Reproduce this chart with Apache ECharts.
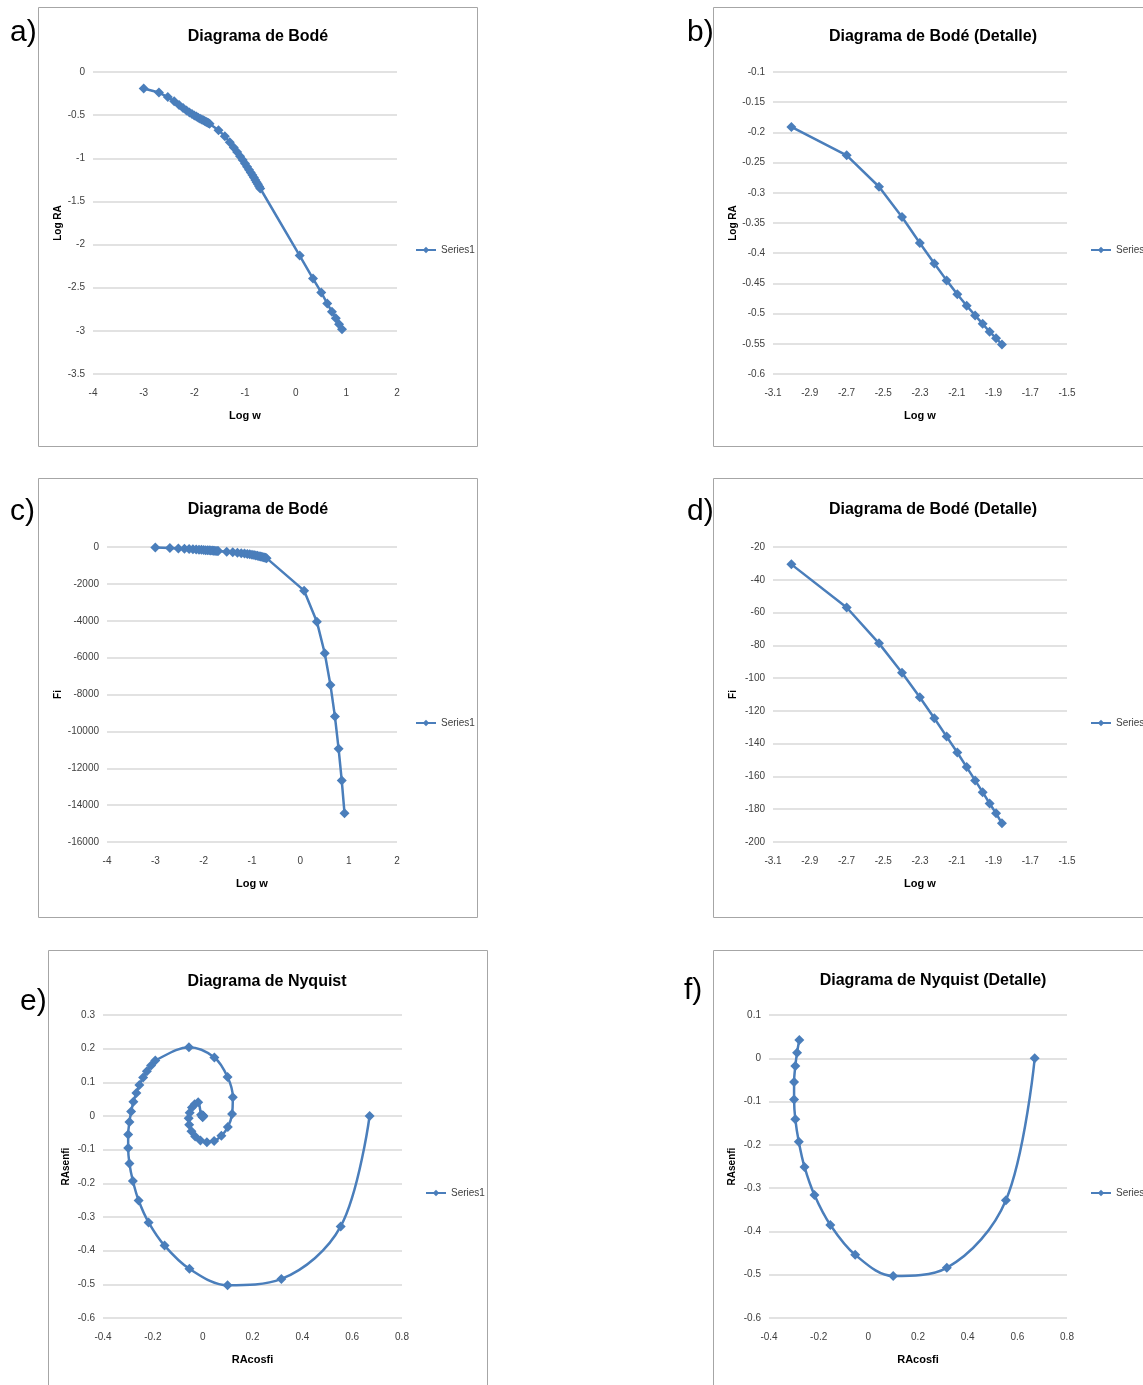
<!DOCTYPE html>
<html>
<head>
<meta charset="utf-8">
<script src="https://cdn.jsdelivr.net/npm/echarts@6/dist/echarts.min.js"></script>
<style>
html, body { margin: 0; padding: 0; background: #fff; }
#main { width: 1143px; height: 1385px; }
</style>
</head>
<body>
<div id="main"></div>
<script>
// log10 of w : 0.001..0.020, 0.03..0.20, 1.2..8.2
var logW = [-3.000, -2.699, -2.523, -2.398, -2.301, -2.222, -2.155, -2.097, -2.046, -2.000,
    -1.959, -1.921, -1.886, -1.854, -1.824, -1.796, -1.770, -1.745, -1.721, -1.699,
    -1.523, -1.398, -1.301, -1.222, -1.155, -1.097, -1.046, -1.000, -0.959, -0.921,
    -0.886, -0.854, -0.824, -0.796, -0.770, -0.745, -0.721, -0.699,
    0.079, 0.342, 0.505, 0.623, 0.716, 0.792, 0.857, 0.914];
var logRA = [-0.191, -0.238, -0.290, -0.340, -0.383, -0.417, -0.445, -0.468, -0.487, -0.503,
    -0.517, -0.530, -0.541, -0.551, -0.560, -0.569, -0.577, -0.585, -0.592, -0.600,
    -0.675, -0.744, -0.814, -0.875, -0.928, -0.976, -1.020, -1.060, -1.097, -1.132,
    -1.165, -1.195, -1.224, -1.251, -1.277, -1.302, -1.327, -1.349,
    -2.128, -2.394, -2.555, -2.683, -2.778, -2.855, -2.922, -2.980];
var fi = [-30.6, -56.9, -78.8, -96.7, -111.7, -124.5, -135.7, -145.4, -154.3, -162.4,
    -169.6, -176.5, -182.5, -188.6, -194.4, -200.0, -205.4, -210.7, -215.9, -221.0,
    -255, -285, -311, -335, -357, -378, -398, -418, -437.5, -457,
    -476, -495, -514, -532.5, -551, -569.5, -588, -606,
    -2369, -4049, -5761, -7480, -9198, -10948, -12667, -14434];
// Nyquist (first point is w = 0)
var raCos = [0.670, 0.554, 0.316, 0.100, -0.053, -0.153, -0.217, -0.257, -0.280, -0.294,
    -0.299, -0.299, -0.294, -0.287, -0.278, -0.266, -0.254, -0.239, -0.224, -0.207, -0.190,
    -0.055, 0.047, 0.100, 0.121, 0.118, 0.101, 0.075, 0.046, 0.017, -0.009,
    -0.030, -0.045, -0.054, -0.056, -0.052, -0.043, -0.032, -0.018,
    -0.0065, 0.0001, 0.0028, 0.0004, -0.0016, -0.0012, 0.0005, 0.0009];
var raSen = [0.000, -0.328, -0.484, -0.503, -0.454, -0.385, -0.316, -0.251, -0.193, -0.141,
    -0.095, -0.055, -0.018, 0.013, 0.042, 0.068, 0.092, 0.114, 0.133, 0.150, 0.165,
    0.204, 0.174, 0.116, 0.056, 0.006, -0.033, -0.059, -0.074, -0.078, -0.073,
    -0.061, -0.045, -0.026, -0.007, 0.010, 0.025, 0.035, 0.041,
    0.0036, -0.0040, 0.0000, 0.0020, 0.0005, -0.0007, -0.0011, -0.0006];
var nDetail = 14; // w = 0.001 .. 0.014 in the detail charts

function pairs(xs, ys) {
    return xs.map(function (x, i) { return [x, ys[i]]; });
}

var FONT = "'Liberation Sans', Arial, sans-serif";
var BLUE = '#4a7ebb';

var panels = [
    {title: 'Diagrama de Bodé', tx: 258, ty: 29, grid: [93, 72, 304, 302],
     x: [-4, 2, 1], y: [-3.5, 0, 0.5], xName: 'Log w', yName: 'Log RA', yGap: 30,
     data: pairs(logW, logRA), smooth: false, leg: [415, 245]},
    {title: 'Diagrama de Bodé (Detalle)', tx: 933, ty: 29, grid: [773, 72, 294, 302],
     x: [-3.1, -1.5, 0.2], y: [-0.6, -0.1, 0.05], xName: 'Log w', yName: 'Log RA', yGap: 33,
     data: pairs(logW.slice(0, nDetail), logRA.slice(0, nDetail)), smooth: false, leg: [1090, 245]},
    {title: 'Diagrama de Bodé', tx: 258, ty: 502, grid: [107, 547, 290, 295],
     x: [-4, 2, 1], y: [-16000, 0, 2000], xName: 'Log w', yName: 'Fi', yGap: 44,
     data: pairs(logW, fi), smooth: false, leg: [415, 718]},
    {title: 'Diagrama de Bodé (Detalle)', tx: 933, ty: 502, grid: [773, 547, 294, 295],
     x: [-3.1, -1.5, 0.2], y: [-200, -20, 20], xName: 'Log w', yName: 'Fi', yGap: 35,
     data: pairs(logW.slice(0, nDetail), fi.slice(0, nDetail)), smooth: false, leg: [1090, 718]},
    {title: 'Diagrama de Nyquist', tx: 267, ty: 974, grid: [103, 1015, 299, 303],
     x: [-0.4, 0.8, 0.2], y: [-0.6, 0.3, 0.1], xName: 'RAcosfi', yName: 'RAsenfi', yGap: 32,
     data: pairs(raCos, raSen), smooth: 0.35, leg: [425, 1188]},
    {title: 'Diagrama de Nyquist (Detalle)', tx: 933, ty: 973, grid: [769, 1015, 298, 303],
     x: [-0.4, 0.8, 0.2], y: [-0.6, 0.1, 0.1], xName: 'RAcosfi', yName: 'RAsenfi', yGap: 32,
     data: pairs(raCos.slice(0, nDetail + 1), raSen.slice(0, nDetail + 1)), smooth: 0.35, leg: [1090, 1188]}
];

var frames = [[38, 7, 439, 439], [713, 7, 440, 439], [38, 478, 439, 439],
    [713, 478, 440, 439], [48, 950, 439, 440], [713, 950, 440, 440]];
var letters = [['a)', 10, 18], ['b)', 687, 18], ['c)', 10, 497], ['d)', 687, 497],
    ['e)', 20, 987], ['f)', 684, 976]];

var chartDom = document.getElementById('main');
var myChart = echarts.init(chartDom);

var option = {
    backgroundColor: '#ffffff',
    animation: false,
    textStyle: {fontFamily: FONT},
    title: [],
    legend: [],
    grid: [],
    xAxis: [],
    yAxis: [],
    series: [],
    graphic: []
};

frames.forEach(function (f) {
    option.graphic.push({
        type: 'rect', silent: true, z: -1,
        shape: {x: f[0] + 0.5, y: f[1] + 0.5, width: f[2], height: f[3]},
        style: {fill: 'none', stroke: '#a6a6a6', lineWidth: 1}
    });
});
letters.forEach(function (l) {
    option.graphic.push({
        type: 'text', left: l[1], top: l[2],
        style: {text: l[0], fontSize: 30, fontFamily: FONT, fill: '#000'}
    });
});

panels.forEach(function (p, i) {
    option.title.push({
        text: p.title, left: p.tx, top: p.ty, textAlign: 'center', padding: 0,
        textStyle: {fontFamily: FONT, fontSize: 16, fontWeight: 'bold', color: '#000'}
    });
    option.legend.push({
        data: ['Series1'], left: p.leg[0], top: p.leg[1], padding: 0,
        itemWidth: 20, itemHeight: 8, itemGap: 4,
        textStyle: {fontFamily: FONT, fontSize: 10, color: '#404040'}
    });
    option.grid.push({left: p.grid[0], top: p.grid[1], width: p.grid[2], height: p.grid[3]});
    option.xAxis.push({
        type: 'value', gridIndex: i, min: p.x[0], max: p.x[1], interval: p.x[2],
        name: p.xName, nameLocation: 'middle', nameGap: 36,
        nameTextStyle: {fontFamily: FONT, fontSize: 11, fontWeight: 'bold', color: '#000'},
        axisLine: {show: false}, axisTick: {show: false}, splitLine: {show: false},
        axisLabel: {fontFamily: FONT, fontSize: 10, color: '#404040', margin: 14}
    });
    option.yAxis.push({
        type: 'value', gridIndex: i, min: p.y[0], max: p.y[1], interval: p.y[2],
        name: p.yName, nameLocation: 'middle', nameGap: p.yGap, nameRotate: 90,
        nameTextStyle: {fontFamily: FONT, fontSize: 10, fontWeight: 'bold', color: '#000'},
        axisLine: {show: false}, axisTick: {show: false},
        splitLine: {lineStyle: {color: '#d9d9d9', width: 1.5}},
        axisLabel: {fontFamily: FONT, fontSize: 10, color: '#404040', margin: 8,
            formatter: function (v) { return String(+v.toFixed(4)); }}
    });
    option.series.push({
        name: 'Series1', type: 'line', xAxisIndex: i, yAxisIndex: i,
        data: p.data, smooth: p.smooth,
        symbol: 'diamond', symbolSize: 10, showAllSymbol: true,
        itemStyle: {color: BLUE},
        lineStyle: {color: BLUE, width: 2.5}
    });
});

myChart.setOption(option);
</script>
</body>
</html>
